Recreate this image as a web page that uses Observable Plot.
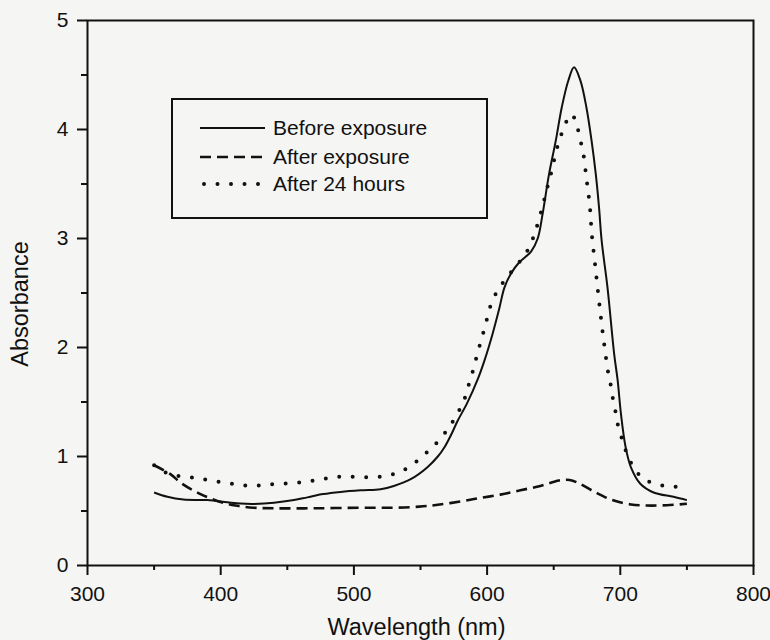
<!DOCTYPE html>
<html><head><meta charset="utf-8">
<script src="https://cdn.jsdelivr.net/npm/d3@7"></script>
<script src="https://cdn.jsdelivr.net/npm/@observablehq/plot@0.6"></script>
<style>
html,body{margin:0;padding:0;background:#f5f5f3;}
#wrap{position:relative;width:770px;height:640px;font-family:'Liberation Sans',Arial,sans-serif;}
#legend{position:absolute;left:171px;top:98px;}
</style>
</head><body>
<div id="wrap"><div id="chart"></div><div id="legend"></div></div>
<script>
// Wavelength (nm) and absorbance
const beforeNm  = [350,360,372,390,405,415,425,440,455,465,477,490,505,520,530,543,555,563,568,573,578,585,593,598,604,609,613,618,624,633,638,641.6,646.5,651.6,656,661,665.3,670,674.6,678.4,681.6,684,686,690.4,695.4,698,700.5,704,708,715,725,740,750];
const beforeAbs = [0.67,0.63,0.605,0.60,0.58,0.568,0.565,0.575,0.60,0.625,0.655,0.675,0.69,0.70,0.73,0.795,0.90,1.00,1.085,1.20,1.33,1.49,1.71,1.88,2.12,2.35,2.55,2.68,2.78,2.88,3.00,3.22,3.59,3.90,4.20,4.45,4.57,4.45,4.20,3.90,3.59,3.29,2.98,2.55,1.94,1.70,1.39,1.085,0.90,0.75,0.67,0.63,0.60];

const afterNm  = [350,362,371,384,398,411,425,440,470,505,530,549,563,580,595,610,625,640,654,662,668,680,694,708,720,735,750];
const afterAbs = [0.92,0.84,0.75,0.66,0.59,0.55,0.53,0.525,0.525,0.53,0.53,0.54,0.557,0.587,0.62,0.65,0.69,0.73,0.78,0.785,0.76,0.68,0.60,0.56,0.55,0.553,0.566];

const h24Nm  = [350,361,372.5,383,393,404,414,424,434,444,455,465,475,485,495,505,516,526,536.5,546.5,555,564,571.5,577.5,582.5,586,589,592,594.7,597.7,600.3,603.3,608.3,615.3,624,630.8,635.3,638.3,641.6,644,646.5,649.1,651.6,654.6,658.3,663.4,667.1,669.6,672.1,674.6,677.1,678.6,680.9,683.1,685.4,687.9,690.9,692.9,694.6,696.6,698.4,701.6,704.9,711,718.4,729.2,739.2,749.2];
const h24Abs = [0.92,0.84,0.816,0.80,0.78,0.758,0.74,0.73,0.74,0.75,0.758,0.77,0.79,0.81,0.816,0.81,0.81,0.826,0.87,0.95,1.04,1.15,1.27,1.39,1.51,1.65,1.77,1.91,2.03,2.16,2.28,2.41,2.53,2.65,2.78,2.90,3.03,3.15,3.29,3.41,3.53,3.65,3.79,3.91,4.04,4.14,4.05,3.92,3.79,3.55,3.30,3.04,2.78,2.53,2.28,2.03,1.77,1.65,1.52,1.40,1.28,1.15,1.03,0.88,0.79,0.74,0.725,0.72];

const seriesNames = ["Before exposure","After exposure","After 24 hours"];
const xLabel = "Wavelength (nm)";
const yLabel = "Absorbance";
const xTicks = [300,400,500,600,700,800];
const xMinor = [350,450,550,650,750];
const yTicks = [0,1,2,3,4,5];
const yMinor = [0.5,1.5,2.5,3.5,4.5];

const ink = "#111";
const font = "'Liberation Sans', Arial, sans-serif";
const styles = [
  {strokeWidth:2, strokeDasharray:null, strokeLinecap:"butt"},
  {strokeWidth:2.6, strokeDasharray:"11 6", strokeLinecap:"butt"},
  {strokeWidth:4, strokeDasharray:"0 13.5", strokeLinecap:"round"}
];
const toRows = (nm, ab) => nm.map((x,i)=>({nm:x, abs:ab[i]}));
const data = [toRows(beforeNm,beforeAbs), toRows(afterNm,afterAbs), toRows(h24Nm,h24Abs)];

const plot = Plot.plot({
  width:770, height:640,
  marginLeft:87, marginRight:17, marginTop:20, marginBottom:75,
  style:{background:"transparent", fontFamily:font, fontSize:"21px", color:ink},
  x:{domain:[300,800]},
  y:{domain:[0,5]},
  marks:[
    Plot.frame({stroke:ink, strokeWidth:2}),
    Plot.axisX(xTicks, {tickSize:10, tickPadding:11, strokeWidth:2, fontSize:21, tickFormat:d=>String(d), label:null}),
    Plot.axisX(xMinor, {tickSize:5, strokeWidth:2, tickFormat:()=>"", label:null}),
    Plot.axisY(yTicks, {tickSize:10, tickPadding:9, strokeWidth:2, fontSize:21, tickFormat:d=>String(d), label:null}),
    Plot.axisY(yMinor, {tickSize:6, strokeWidth:2, tickFormat:()=>"", label:null}),
    Plot.text([xLabel], {frameAnchor:"bottom", text:d=>d, dx:-4, dy:62, textAnchor:"middle", lineAnchor:"middle", fontSize:23.5, fill:ink}),
    Plot.text([yLabel], {frameAnchor:"left", text:d=>d, dx:-67, dy:11, rotate:-90, textAnchor:"middle", lineAnchor:"middle", fontSize:23.5, fill:ink}),
    ...data.map((d,i)=>Plot.line(d, {x:"nm", y:"abs", stroke:ink, curve:"catmull-rom", ...styles[i]}))
  ]
});
document.getElementById("chart").appendChild(plot);

// legend (inside plot area)
const lg = d3.select("#legend").append("svg").attr("width",317).attr("height",121);
lg.append("rect").attr("x",1).attr("y",1).attr("width",315).attr("height",119).attr("fill","none").attr("stroke",ink).attr("stroke-width",2);
const rowY = [30,59,86];
seriesNames.forEach((name,i)=>{
  const s = styles[i];
  const ln = lg.append("line").attr("x1", i===2?33:29).attr("x2",94).attr("y1",rowY[i]).attr("y2",rowY[i])
    .attr("stroke",ink).attr("stroke-width",s.strokeWidth).attr("stroke-linecap",s.strokeLinecap);
  if (s.strokeDasharray) ln.attr("stroke-dasharray", s.strokeDasharray);
  lg.append("text").attr("x",102).attr("y",rowY[i]+7).attr("font-size",21)
    .attr("font-family",font).attr("fill",ink).text(name);
});
</script>
</body></html>
